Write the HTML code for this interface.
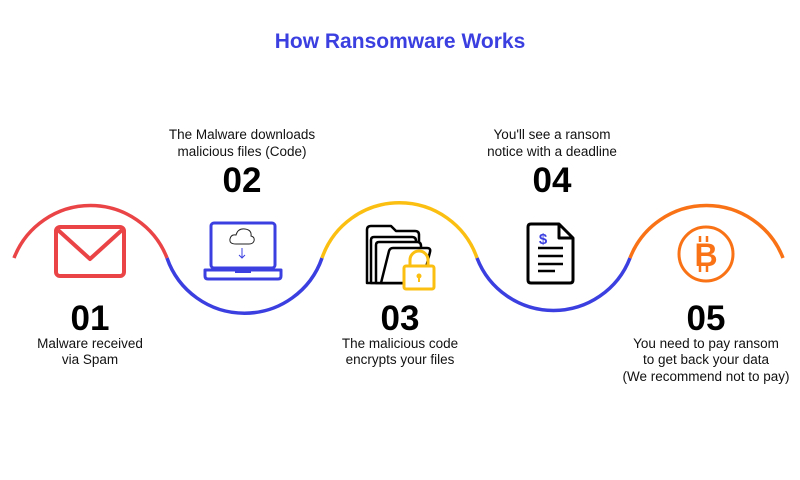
<!DOCTYPE html>
<html><head><meta charset="utf-8"><style>
body{margin:0;background:#fff;}
svg{display:block}
text{font-family:"Liberation Sans",sans-serif;}
.l{font-size:13.5px;fill:#111;text-anchor:middle}
.n{font-size:35px;font-weight:bold;fill:#000;text-anchor:middle}
</style></head><body>
<svg width="800" height="480" viewBox="0 0 800 480">
<text x="400" y="48" text-anchor="middle" font-size="21" font-weight="bold" fill="#3b3fe0">How Ransomware Works</text>
<g fill="none" stroke-width="3.5">
<path d="M14 258 A82 82 0 0 1 167 258" stroke="#ea4447"/>
<path d="M167 258 A82 82 0 0 0 322 258" stroke="#3b3fe0"/>
<path d="M322 258 A82 82 0 0 1 477 258" stroke="#fbbf12"/>
<path d="M477 258 A82 82 0 0 0 630 258" stroke="#3b3fe0"/>
<path d="M630 258 A82 82 0 0 1 783 258" stroke="#f97316"/>
</g>
<!-- envelope -->
<g fill="none" stroke="#ea4447" stroke-width="4" stroke-linejoin="round">
<rect x="56" y="227" width="68" height="49" rx="4"/>
<path d="M58 230 L90 259 L122 230"/>
</g>
<!-- laptop -->
<g fill="none" stroke="#3b3fe0" stroke-width="3" stroke-linejoin="round">
<rect x="211" y="223" width="64" height="45" rx="3"/>
<path d="M205 270 H281 V276 Q281 279 278 279 H208 Q205 279 205 276 Z"/>
<path d="M235 272 H251" stroke-width="2"/>
</g>
<path d="M236 244 Q229 244 230 239 Q231 234 236 235 Q238 228 245 229 Q252 230 251 236 Q255 237 254 241 Q253 244 249 244 Z" fill="none" stroke="#222" stroke-width="1"/>
<path d="M242 248 V258 M239 255 L242 258 L245 255" fill="none" stroke="#3b3fe0" stroke-width="1"/>
<!-- folders -->
<g fill="#fff" stroke="#000" stroke-width="2.5" stroke-linejoin="round">
<path d="M367 283 V230 Q367 226 371 226 H391 L396 231 H415 Q419 231 419 235 V283 Z"/>
<path d="M371 283 V240 Q371 237 374 237 H412 Q416 237 416 241 V283 Z"/>
<path d="M376 283 V245 Q376 242 379 242 H417 Q421 242 421 246 V283 Z"/>
<path d="M381 283 L389 251 Q390 248 393 248 H427 Q431 248 430 252 L422 283 Z"/>
</g>
<g fill="none" stroke="#fbbf12" stroke-width="3">
<rect x="404" y="266" width="30" height="23" rx="2" fill="#fff"/>
<path d="M410 266 V260 A9 9 0 0 1 428 260 V266"/>
</g>
<circle cx="419" cy="276" r="2.5" fill="#fbbf12"/><rect x="418" y="276" width="2" height="6" fill="#fbbf12"/>
<!-- document -->
<g fill="none" stroke="#000" stroke-width="3" stroke-linejoin="round">
<path d="M531 224 H559 L573 238 V280 Q573 283 570 283 H531 Q528 283 528 280 V227 Q528 224 531 224 Z"/>
<path d="M559 224 V238 H573"/>
<path d="M538 248 H563 M538 256 H563 M538 264 H563 M538 271 H555" stroke-width="2.5"/>
</g>
<text x="543" y="244" text-anchor="middle" font-size="15" font-weight="bold" fill="#3b3fe0">$</text>
<!-- bitcoin -->
<circle cx="706" cy="254" r="27" fill="none" stroke="#f97316" stroke-width="3"/>
<text x="706" y="266" text-anchor="middle" font-size="32" font-weight="bold" fill="#f97316">B</text>
<path d="M700 236 V242 M707 236 V242 M700 266 V272 M707 266 V272" stroke="#f97316" stroke-width="2.5"/>
<!-- labels -->
<text class="l" x="242" y="139">The Malware downloads</text>
<text class="l" x="242" y="156">malicious files (Code)</text>
<text class="n" x="242" y="192">02</text>
<text class="l" x="552" y="139">You'll see a ransom</text>
<text class="l" x="552" y="156">notice with a deadline</text>
<text class="n" x="552" y="192">04</text>
<text class="n" x="90" y="330">01</text>
<text class="l" x="90" y="348">Malware received</text>
<text class="l" x="90" y="364">via Spam</text>
<text class="n" x="400" y="330">03</text>
<text class="l" x="400" y="348">The malicious code</text>
<text class="l" x="400" y="364">encrypts your files</text>
<text class="n" x="706" y="330">05</text>
<text class="l" x="706" y="348">You need to pay ransom</text>
<text class="l" x="706" y="364">to get back your data</text>
<text class="l" x="706" y="381">(We recommend not to pay)</text>
</svg>
</body></html>
